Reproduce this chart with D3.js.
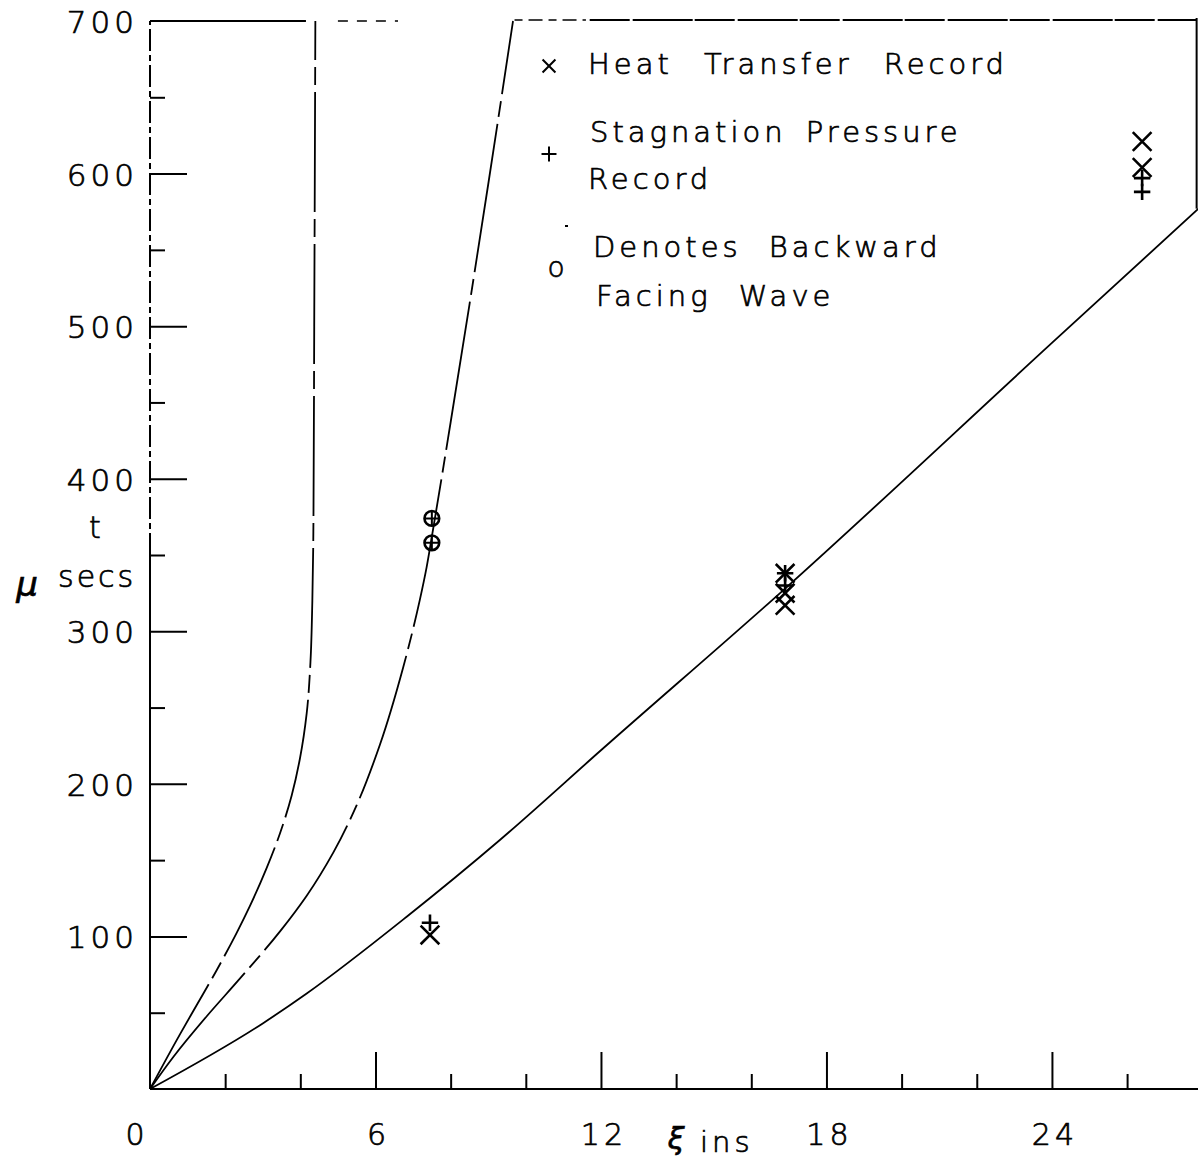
<!DOCTYPE html>
<html>
<head>
<meta charset="utf-8">
<script src="https://cdn.jsdelivr.net/npm/d3@7"></script>
<style>
  html, body { margin: 0; padding: 0; background: #fff; }
  svg { display: block; }
  text { font-family: "DejaVu Sans", sans-serif; font-weight: 200; fill: #000; stroke: #000; stroke-width: 0.7px; }
</style>
</head>
<body>
<svg id="chart" width="1198" height="1161"></svg>
<script>
// ---------- data ----------
const xMajorTicks = [6, 12, 18, 24];
const xMinorTicks = [2, 4, 8, 10, 14, 16, 20, 22, 26];
const xTickLabels = [0, 6, 12, 18, 24];
const yMajorTicks = [100, 200, 300, 400, 500, 600];
const yMinorTicks = [50, 150, 250, 350, 450, 550, 650];
const yTickLabels = [100, 200, 300, 400, 500, 600, 700];

// curves (xi in inches, t in microseconds)
const lowerXi = [0, 3.0, 4.17, 6.83, 9.31, 12, 16.9, 24, 27.9];
const lowerT  = [0, 43, 62.6, 112.9, 163.2, 222, 328, 489, 577];

const middleXi = [0, 0.62, 1.51, 2.39, 3.46, 4.17, 4.88, 5.50, 6.12, 6.74, 7.18, 7.36, 7.5, 8.0, 8.5, 9.0, 9.66];
const middleT  = [0, 21, 47.7, 72.3, 103.3, 126.7, 155.1, 186.1, 225.8, 276.6, 320.6, 341.9, 362, 437, 514, 593, 700];

const leftXi = [0, 0.80, 1.24, 1.77, 2.31, 2.66, 3.10, 3.46, 3.77, 3.99, 4.17, 4.27, 4.32, 4.345, 4.37, 4.40];
const leftT  = [0, 36, 54.9, 77.7, 102.5, 120, 144.6, 167.6, 192.4, 216.6, 246.3, 280, 320, 360, 500, 700];

// measured points
const heatXi = [7.45, 16.9, 16.9, 16.9, 26.4, 26.4];
const heatT  = [101, 338, 325, 317, 621, 604];
const stagXi = [7.45, 16.9, 16.9, 26.4, 26.4];
const stagT  = [109, 338, 330, 597, 588];
const backXi = [7.5, 7.5];
const backT  = [374, 358];

const legendLabels = [["Heat Transfer Record"], ["Stagnation Pressure", "Record"], ["Denotes Backward", "Facing Wave"]];

// ---------- scales ----------
const svg = d3.select("#chart");
const x = d3.scaleLinear().domain([0, 27.9]).range([150, 1198.5]);
const y = d3.scaleLinear().domain([0, 700]).range([1089, 21]);

const ink = "#000";

// ---------- frame ----------
function seg(x1, x2, y1, y2, w, dash) {
  const l = svg.append("line").attr("x1", x1).attr("x2", x2).attr("y1", y1).attr("y2", y2)
    .attr("stroke", ink).attr("stroke-width", w);
  if (dash) l.attr("stroke-dasharray", dash);
  return l;
}
// left axis: solid lower part, broken upper part
seg(x(0), x(0), y(0), y(350), 2);
seg(x(0), x(0), y(350), y(700), 2, "22,4,6,4");
// bottom axis
seg(x(0), 1198, y(0), y(0), 2);
// top border (broken as in the print)
seg(x(0), x(4.15), y(700), y(700), 2);
seg(x(5.0), x(6.6), y(700), y(700), 1.6, "10,9");
seg(x(9.7), x(11.6), y(700) - 1, y(700) - 1, 1.6, "8,6,14,6");
seg(x(11.7), x(27.85), y(700) - 1, y(700) - 1, 2, "40,3,60,2");
// right border
seg(x(27.85), x(27.85), y(700) - 3, y(577), 2);

// ---------- axes ticks (d3 axes, ticks pointing inward) ----------
function styleAxis(g) {
  g.select(".domain").remove();
  g.selectAll(".tick line").attr("stroke", ink).attr("stroke-width", 2);
  g.selectAll(".tick text").remove();
}
svg.append("g").attr("transform", `translate(0,${y(0)})`)
  .call(d3.axisTop(x).tickValues(xMajorTicks).tickSize(37).tickFormat(""))
  .call(styleAxis);
svg.append("g").attr("transform", `translate(0,${y(0)})`)
  .call(d3.axisTop(x).tickValues(xMinorTicks).tickSize(15).tickFormat(""))
  .call(styleAxis);
svg.append("g").attr("transform", `translate(${x(0)},0)`)
  .call(d3.axisRight(y).tickValues(yMajorTicks).tickSize(37).tickFormat(""))
  .call(styleAxis);
svg.append("g").attr("transform", `translate(${x(0)},0)`)
  .call(d3.axisRight(y).tickValues(yMinorTicks).tickSize(15).tickFormat(""))
  .call(styleAxis);

// tick labels
svg.append("g").selectAll("text").data(yTickLabels).join("text")
  .attr("x", 138).attr("y", d => y(d) + 12)
  .attr("text-anchor", "end")
  .attr("font-size", 31).attr("letter-spacing", 4)
  .text(d => d);
svg.append("g").selectAll("text").data(xTickLabels).join("text")
  .attr("x", d => x(d) + (d === 0 ? -13 : 3)).attr("y", 1145)
  .attr("text-anchor", "middle")
  .attr("font-size", 30).attr("letter-spacing", 4)
  .text(d => d);

// axis titles
svg.append("text").attr("x", 95).attr("y", 538).attr("text-anchor", "middle")
  .attr("font-size", 30).text("t");
svg.append("text").attr("x", 27).attr("y", 596).attr("text-anchor", "middle")
  .attr("font-size", 34).attr("font-style", "italic").text("μ");
svg.append("text").attr("x", 58).attr("y", 587).attr("font-size", 30)
  .attr("letter-spacing", 3).text("secs");
svg.append("text").attr("x", 676).attr("y", 1149).attr("text-anchor", "middle")
  .attr("font-size", 30).attr("font-style", "italic").text("ξ");
svg.append("text").attr("x", 700).attr("y", 1152).attr("font-size", 29)
  .attr("letter-spacing", 4).text("ins");

// ---------- curves ----------
const lineX = d3.line().x(d => x(d[0])).y(d => y(d[1])).curve(d3.curveMonotoneX);
const lineY = d3.line().x(d => x(d[0])).y(d => y(d[1])).curve(d3.curveMonotoneY);

svg.append("path").datum(d3.zip(lowerXi, lowerT)).attr("d", lineX)
  .attr("fill", "none").attr("stroke", ink).attr("stroke-width", 1.8);
svg.append("path").datum(d3.zip(middleXi, middleT)).attr("d", lineY)
  .attr("fill", "none").attr("stroke", ink).attr("stroke-width", 1.8)
  .attr("stroke-dasharray", "150,7,16,7");
svg.append("path").datum(d3.zip(leftXi, leftT)).attr("d", lineY)
  .attr("fill", "none").attr("stroke", ink).attr("stroke-width", 1.8)
  .attr("stroke-dasharray", "120,7,18,7");

// ---------- markers ----------
const xSym = d3.symbol().type(d3.symbolX).size(230);
const plusSym = d3.symbol().type(d3.symbolPlus).size(90);

svg.append("g").selectAll("path").data(d3.zip(backXi, backT)).join("path")
  .attr("transform", d => `translate(${x(d[0])},${y(d[1])})`)
  .attr("d", d3.symbol().type(d3.symbolCircle).size(170))
  .attr("fill", "none").attr("stroke", ink).attr("stroke-width", 2.6);
svg.append("g").selectAll("path").data(d3.zip(backXi, backT)).join("path")
  .attr("transform", d => `translate(${x(d[0])},${y(d[1])})`)
  .attr("d", d3.symbol().type(d3.symbolPlus).size(60))
  .attr("fill", "none").attr("stroke", ink).attr("stroke-width", 2);

svg.append("g").selectAll("path").data(d3.zip(heatXi, heatT)).join("path")
  .attr("transform", d => `translate(${x(d[0])},${y(d[1])})`)
  .attr("d", xSym)
  .attr("fill", "none").attr("stroke", ink).attr("stroke-width", 2.6);
svg.append("g").selectAll("path").data(d3.zip(stagXi, stagT)).join("path")
  .attr("transform", d => `translate(${x(d[0])},${y(d[1])})`)
  .attr("d", plusSym)
  .attr("fill", "none").attr("stroke", ink).attr("stroke-width", 2.6);

// ---------- legend ----------
const legend = svg.append("g");
legend.append("path").attr("transform", "translate(549,66)")
  .attr("d", d3.symbol().type(d3.symbolX).size(110))
  .attr("fill", "none").attr("stroke", ink).attr("stroke-width", 2);
legend.append("path").attr("transform", "translate(549,154)")
  .attr("d", d3.symbol().type(d3.symbolPlus).size(75))
  .attr("fill", "none").attr("stroke", ink).attr("stroke-width", 2);
legend.append("text").attr("x", 556).attr("y", 277).attr("text-anchor", "middle")
  .attr("font-size", 28).text("o");
legend.append("line").attr("x1", 565).attr("x2", 568).attr("y1", 226).attr("y2", 226)
  .attr("stroke", ink).attr("stroke-width", 2);

const legendRows = [
  { x: 588, y: 74, t: legendLabels[0][0], ws: 18 },
  { x: 590, y: 142, t: legendLabels[1][0], ws: 6 },
  { x: 588, y: 189, t: legendLabels[1][1], ws: 12 },
  { x: 593, y: 257, t: legendLabels[2][0], ws: 14 },
  { x: 596, y: 306, t: legendLabels[2][1], ws: 14 }
];
legend.selectAll("text.row").data(legendRows).join("text").attr("class", "row")
  .attr("x", d => d.x).attr("y", d => d.y)
  .attr("font-size", 29).attr("letter-spacing", 4).attr("word-spacing", d => d.ws)
  .text(d => d.t);
</script>
</body>
</html>
